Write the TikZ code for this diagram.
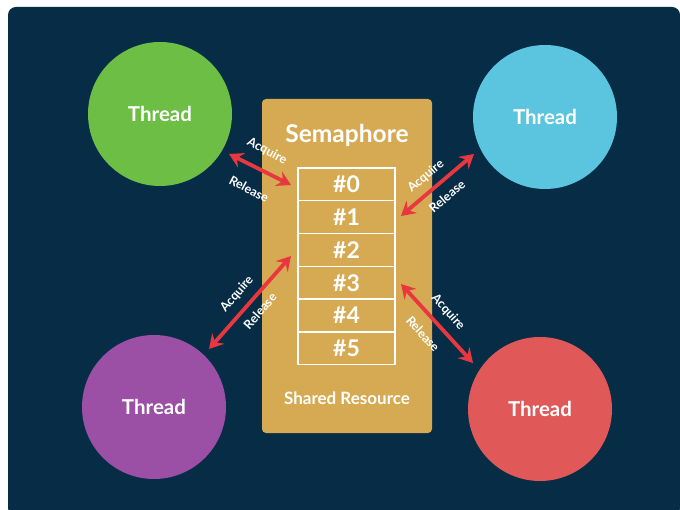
\documentclass[tikz,border=0pt]{standalone}
\usepackage{fontspec}
\setmainfont{Lato}
\usetikzlibrary{arrows.meta}
\definecolor{bgnavy}{HTML}{072C46}
\definecolor{tgreen}{HTML}{6DBE45}
\definecolor{tcyan}{HTML}{5BC5E0}
\definecolor{tpurple}{HTML}{9B4FA5}
\definecolor{tred}{HTML}{E05858}
\definecolor{gold}{HTML}{D6AA52}
\definecolor{arrred}{HTML}{E8373F}
\tikzset{
  thread/.style={circle, minimum size=144pt, inner sep=0pt, text=white, font=\fontsize{20.5}{24}\selectfont\bfseries},
  slot/.style={draw=white, line width=1.4pt, minimum width=97pt, minimum height=32.8pt, inner sep=0pt, text=white, font=\fontsize{23}{26}\selectfont\bfseries},
  link/.style={arrred, line width=3.8pt, {Stealth[length=14pt,width=16pt,inset=5pt]}-{Stealth[length=14pt,width=16pt,inset=5pt]}},
  lbl/.style={text=white, font=\fontsize{12.5}{14}\selectfont\bfseries, inner sep=0pt}
}
\begin{document}
\begin{tikzpicture}[x=1pt,y=-1pt]
\useasboundingbox (0,0) rectangle (680,510);
\fill[white] (0,0) rectangle (680,510);
\fill[bgnavy, rounded corners=8pt] (8,7) rectangle (680,516);
% threads
\node[thread, fill=tgreen] (t1) at (160,114) {Thread};
\node[thread, fill=tcyan] (t2) at (545,117) {Thread};
\node[thread, fill=tpurple] (t3) at (154,407) {Thread};
\node[thread, fill=tred] (t4) at (540,409) {Thread};
% semaphore box
\fill[gold, rounded corners=4pt] (262,99) rectangle (432,433);
\node[text=white, font=\fontsize{24.5}{28}\selectfont\bfseries] (sem) at (347,135) {Semaphore};
\node[text=white, font=\fontsize{17}{20}\selectfont\bfseries] (shared) at (347,398) {Shared Resource};
\foreach \i in {0,...,5} {
  \node[slot] (s\i) at (346.5,{184.4+32.8*\i}) {\#\i};
}
% arrow ends
\coordinate (a1a) at (229,154); \coordinate (a1b) at (291,185);
\coordinate (a2a) at (401,216); \coordinate (a2b) at (474,154);
\coordinate (a3a) at (209,349); \coordinate (a3b) at (291,256);
\coordinate (a4a) at (401,284); \coordinate (a4b) at (473,363);
\draw[link] (a1a) -- (a1b);
\draw[link] (a2a) -- (a2b);
\draw[link] (a3a) -- (a3b);
\draw[link] (a4a) -- (a4b);
% labels
\node[lbl, rotate=-28] (l1a) at (267,151) {Acquire};
\node[lbl, rotate=-28] (l1r) at (249,189) {Release};
\node[lbl, rotate=40] (l2a) at (426,176) {Acquire};
\node[lbl, rotate=40] (l2r) at (447,196) {Release};
\node[lbl, rotate=49] (l3a) at (237,294) {Acquire};
\node[lbl, rotate=49] (l3r) at (260,311) {Release};
\node[lbl, rotate=-48] (l4a) at (448,312) {Acquire};
\node[lbl, rotate=-48] (l4r) at (423,334) {Release};
\end{tikzpicture}
\end{document}
